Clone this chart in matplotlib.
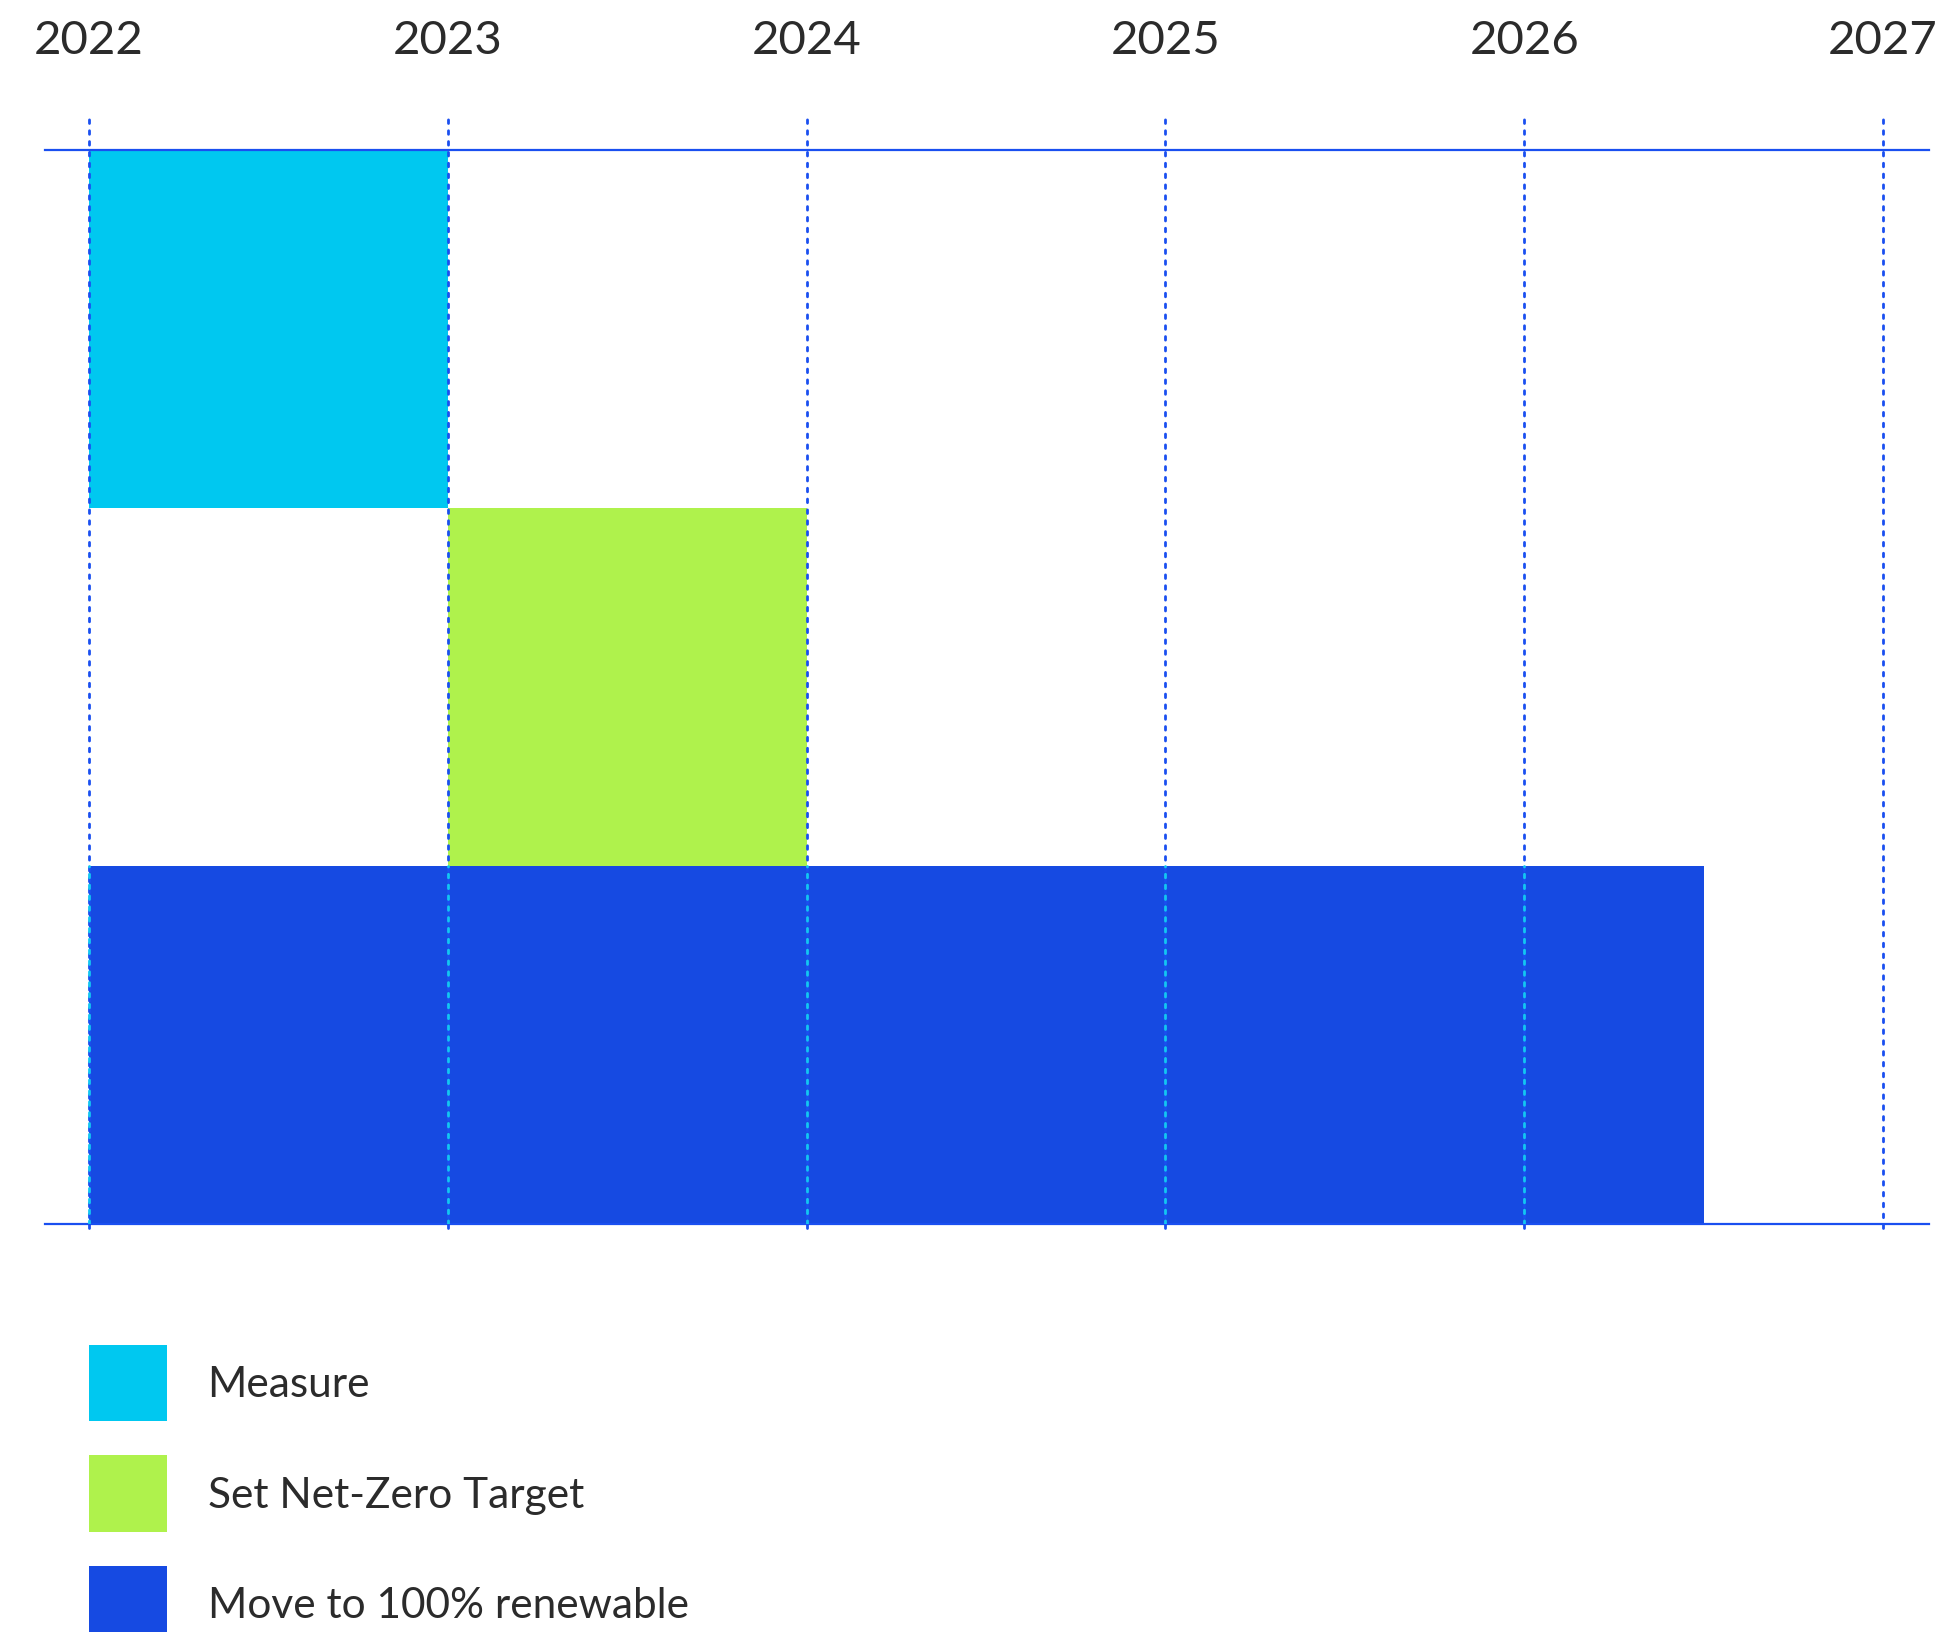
import matplotlib.pyplot as plt
from matplotlib.patches import Patch

plt.rcParams['font.family'] = ['Lato', 'DejaVu Sans']

# roadmap phases (years)
tasks = ['Measure', 'Set Net-Zero Target', 'Move to 100% renewable']
starts = [2022, 2023, 2022]
ends = [2023, 2024, 2026.5]
colors = ['#00c8f0', '#aff24c', '#164ae2']
years = [2022, 2023, 2024, 2025, 2026, 2027]

TEXT = '#2b2b2b'
LINE = '#1a4ff0'

fig = plt.figure(figsize=(19.41, 16.33), dpi=100)
ax = fig.add_axes([45 / 1941, 1 - 1225 / 1633, 1884 / 1941, 1074 / 1633])

# rows top to bottom
rows = list(range(len(tasks)))[::-1]
widths = [e - s for s, e in zip(starts, ends)]
ax.barh(rows, widths, left=starts, height=1.0, color=colors, zorder=1)

ax.set_xlim(2021.877, 2027.128)
ax.set_ylim(-0.5, len(tasks) - 0.5)

# dotted year lines, poking out above the top rule
dot = (0, (1.3, 2.6))
ax.vlines(years, -0.51, len(tasks) - 0.5 + 0.1, colors=LINE, linewidth=2.0,
          linestyles=dot, clip_on=False, zorder=3, capstyle='round')
# lighter dots where they cross the long blue bar
r = rows[-1]
inside = [y for y in years if starts[-1] <= y <= ends[-1]]
ax.vlines(inside, r - 0.5, r + 0.5, colors='#12c6f2', linewidth=2.0,
          linestyles=dot, zorder=4, capstyle='round')

for side in ['left', 'right']:
    ax.spines[side].set_visible(False)
for side in ['top', 'bottom']:
    ax.spines[side].set_color(LINE)
    ax.spines[side].set_linewidth(1.6)

ax.set_yticks([])
ax.xaxis.set_ticks_position('top')
ax.set_xticks(years)
ax.set_xticklabels([str(y) for y in years], fontsize=34, color=TEXT)
ax.tick_params(axis='x', length=0, pad=64)

handles = [Patch(facecolor=c, edgecolor='none') for c in colors]
fig.legend(handles, tasks, loc='upper left', bbox_to_anchor=(89 / 1941, 1 - 1346 / 1633),
           frameon=False, fontsize=30.5, labelcolor=TEXT, handlelength=1.83, handleheight=2.4,
           handletextpad=0.97, labelspacing=0.8, borderpad=0, borderaxespad=0)

fig.savefig('out.png', dpi=100)
